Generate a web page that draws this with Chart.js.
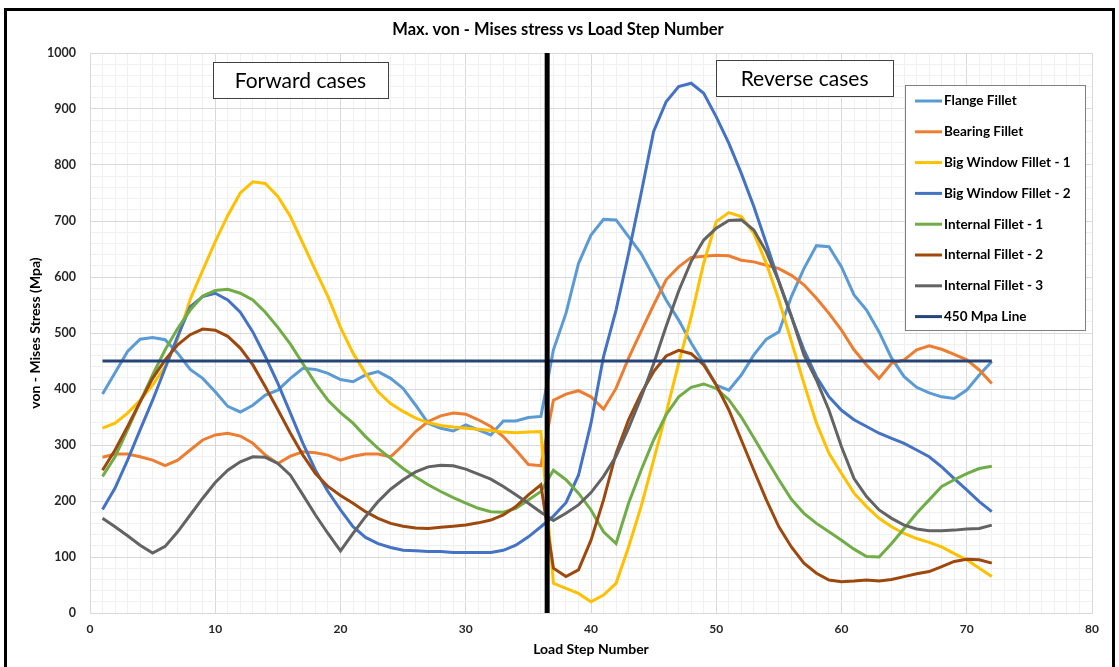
<!DOCTYPE html>
<html>
<head>
<meta charset="utf-8">
<title>Max. von - Mises stress vs Load Step Number</title>
<script src="https://cdn.jsdelivr.net/npm/chart.js@4.4.1/dist/chart.umd.min.js"></script>
<style>
  html, body { margin: 0; padding: 0; background: #fff; }
  #wrap { position: relative; width: 1119px; height: 667px; overflow: hidden; }
  #frame { position: absolute; left: 4px; top: 8px; width: 1111px; height: 700px;
           border: 3px solid #000; box-sizing: border-box; pointer-events: none; }
  canvas { position: absolute; left: 0; top: 0; }
</style>
</head>
<body>
<div id="wrap">
  <canvas id="chart" width="1119" height="667"></canvas>
  <div id="frame"></div>
</div>
<script>
// Load steps (x values)
const loadSteps = [
  1, 2, 3, 4, 5, 6, 7, 8, 9, 10, 11, 12, 13, 14, 15, 16, 17, 18, 19, 20, 21, 22, 23, 24,
  25, 26, 27, 28, 29, 30, 31, 32, 33, 34, 35, 36, 37, 38, 39, 40, 41, 42, 43, 44, 45, 46, 47, 48,
  49, 50, 51, 52, 53, 54, 55, 56, 57, 58, 59, 60, 61, 62, 63, 64, 65, 66, 67, 68, 69, 70, 71, 72
];

// von Mises stress (Mpa) per load step
const flangeFillet = [
  391, 429, 467, 489, 492, 488, 464, 435, 419, 395, 369, 359, 371, 389, 398, 419, 437, 435, 428, 417, 413, 425, 431, 419,
  401, 371, 339, 330, 325, 336, 327, 318, 343, 343, 349, 351, 470, 535, 624, 675, 703, 702, 672, 642, 601, 559, 523, 482,
  446, 407, 398, 425, 461, 489, 502, 565, 615, 656, 654, 618, 568, 541, 502, 455, 422, 403, 393, 386, 383, 398, 425, 449
];
const bearingFillet = [
  278, 284, 284, 279, 273, 263, 273, 291, 309, 318, 321, 316, 303, 282, 267, 280, 288, 286, 282, 273, 280, 284, 284, 279,
  300, 324, 342, 352, 357, 355, 345, 333, 315, 291, 265, 263, 380, 391, 397, 386, 364, 401, 455, 503, 550, 595, 618, 635,
  637, 639, 638, 630, 627, 621, 615, 603, 586, 562, 535, 505, 470, 443, 419, 446, 452, 470, 477, 471, 462, 452, 434, 410
];
const bigWindow1 = [
  330, 339, 357, 380, 407, 440, 490, 560, 612, 663, 710, 750, 770, 767, 744, 708, 660, 612, 565, 510, 464, 428, 395, 374,
  360, 348, 340, 335, 332, 330, 328, 326, 323, 322, 323, 324, 53, 44, 35, 20, 32, 53, 118, 190, 273, 357, 446, 529,
  625, 699, 715, 708, 678, 624, 559, 485, 410, 339, 285, 249, 214, 190, 169, 154, 142, 133, 126, 118, 106, 95, 80, 65
];
const bigWindow2 = [
  185, 223, 273, 327, 380, 437, 494, 547, 565, 571, 559, 537, 502, 458, 410, 357, 303, 255, 217, 184, 154, 135, 124, 117,
  112, 111, 110, 110, 108, 108, 108, 108, 112, 121, 136, 154, 173, 197, 246, 339, 458, 541, 642, 749, 860, 913, 940, 946,
  928, 886, 839, 785, 726, 660, 592, 529, 470, 422, 386, 362, 345, 333, 321, 312, 303, 291, 279, 261, 240, 220, 199, 181
];
const internal1 = [
  244, 279, 327, 377, 425, 470, 508, 541, 566, 576, 578, 571, 559, 537, 510, 480, 445, 410, 380, 358, 339, 315, 294, 276,
  258, 243, 229, 217, 206, 196, 187, 181, 180, 187, 202, 217, 255, 238, 214, 184, 145, 124, 196, 255, 309, 354, 386, 403,
  409, 401, 381, 350, 313, 275, 238, 203, 178, 160, 145, 130, 114, 101, 100, 124, 151, 178, 202, 226, 238, 249, 258, 262
];
const internal2 = [
  255, 291, 333, 377, 419, 452, 479, 497, 507, 505, 494, 473, 443, 404, 363, 321, 282, 249, 226, 210, 196, 181, 169, 160,
  155, 152, 151, 153, 155, 157, 161, 166, 175, 190, 211, 229, 80, 65, 77, 130, 202, 285, 345, 392, 431, 459, 469, 463,
  443, 407, 363, 309, 255, 202, 154, 118, 89, 71, 59, 56, 57, 59, 57, 60, 65, 70, 74, 83, 92, 96, 95, 89
];
const internal3 = [
  169, 154, 138, 121, 107, 119, 145, 175, 205, 233, 255, 270, 279, 278, 267, 246, 211, 175, 142, 111, 142, 172, 199, 221,
  238, 252, 261, 264, 263, 257, 248, 239, 226, 211, 196, 180, 165, 178, 193, 215, 244, 280, 330, 385, 445, 512, 575, 628,
  666, 687, 701, 702, 684, 645, 592, 530, 461, 416, 362, 297, 240, 208, 184, 169, 157, 150, 147, 147, 148, 150, 151, 157
];
const limitStress = 450;       // 450 Mpa line
const reversalStep = 36.5;     // forward / reverse divider

const seriesNames = [
  'Flange Fillet', 'Bearing Fillet', 'Big Window Fillet - 1', 'Big Window Fillet - 2',
  'Internal Fillet - 1', 'Internal Fillet - 2', 'Internal Fillet - 3', '450 Mpa Line'
];
const seriesColors = ['#5B9BD5', '#ED7D31', '#FFC000', '#4472C4', '#70AD47', '#9E480E', '#636363', '#264478'];
const seriesValues = [flangeFillet, bearingFillet, bigWindow1, bigWindow2, internal1, internal2, internal3,
  loadSteps.map(() => limitStress)];

const FONT = 'Lato, "Open Sans", sans-serif';

// Build datasets from the arrays above
const datasets = seriesNames.map((name, i) => ({
  label: name,
  data: seriesValues[i].map((v, j) => ({ x: loadSteps[j], y: v })),
  borderColor: seriesColors[i],
  backgroundColor: seriesColors[i],
  borderWidth: 3,
  pointRadius: 0,
  tension: 0,
  showLine: true,
  order: 20 - i // later series on top, like Excel
}));
datasets.push({
  label: 'divider',
  data: [{ x: reversalStep, y: 0 }, { x: reversalStep, y: 1000 }],
  borderColor: '#000',
  borderWidth: 5,
  pointRadius: 0,
  showLine: true,
  order: 0
});

// Text boxes placed in data coordinates
const caseBoxes = [
  { text: 'Forward cases', x0: 9.8, x1: 23.8, y0: 984, y1: 920 },
  { text: 'Reverse cases', x0: 50.0, x1: 64.1, y0: 988, y1: 923 }
];

const decorPlugin = {
  id: 'decor',
  afterDraw(chart) {
    const { ctx, chartArea, scales: { x, y } } = chart;
    ctx.save();
    ctx.fillStyle = '#000';

    // Title
    ctx.font = 'bold 16.5px ' + FONT;
    ctx.textAlign = 'center';
    ctx.textBaseline = 'middle';
    ctx.fillText('Max. von - Mises stress vs Load Step Number', 558, 30);

    // Axis titles
    ctx.font = 'bold 14px ' + FONT;
    ctx.fillText('Load Step Number', (chartArea.left + chartArea.right) / 2, 649);
    ctx.save();
    ctx.translate(35, (chartArea.top + chartArea.bottom) / 2);
    ctx.rotate(-Math.PI / 2);
    ctx.fillText('von - Mises Stress (Mpa)', 0, 0);
    ctx.restore();

    // Case boxes
    caseBoxes.forEach(b => {
      const l = x.getPixelForValue(b.x0), r = x.getPixelForValue(b.x1);
      const t = y.getPixelForValue(b.y0), bt = y.getPixelForValue(b.y1);
      ctx.fillStyle = '#fff';
      ctx.fillRect(l, t, r - l, bt - t);
      ctx.strokeStyle = '#404040';
      ctx.lineWidth = 1;
      ctx.strokeRect(Math.round(l) + 0.5, Math.round(t) + 0.5, Math.round(r - l), Math.round(bt - t));
      ctx.fillStyle = '#000';
      ctx.font = '21px ' + FONT;
      ctx.textAlign = 'center';
      ctx.fillText(b.text, (l + r) / 2, (t + bt) / 2 + 1);
    });

    // Legend box
    const lx = 905, ly = 85, lw = 180, lh = 245;
    ctx.fillStyle = '#fff';
    ctx.fillRect(lx, ly, lw, lh);
    ctx.strokeStyle = '#7f7f7f';
    ctx.lineWidth = 1;
    ctx.strokeRect(lx + 0.5, ly + 0.5, lw, lh);
    ctx.font = 'bold 13.5px ' + FONT;
    ctx.textAlign = 'left';
    ctx.textBaseline = 'middle';
    seriesNames.forEach((name, i) => {
      const cy = 101 + i * 30.8;
      ctx.strokeStyle = seriesColors[i];
      ctx.lineWidth = 3;
      ctx.beginPath();
      ctx.moveTo(915, cy);
      ctx.lineTo(942, cy);
      ctx.stroke();
      ctx.fillStyle = '#000';
      ctx.fillText(name, 944, cy);
    });
    ctx.restore();
  }
};

new Chart(document.getElementById('chart'), {
  type: 'scatter',
  data: { datasets },
  options: {
    responsive: false,
    animation: false,
    layout: { padding: { left: 0, right: 27, top: 53, bottom: 0 } },
    plugins: {
      legend: { display: false },
      title: { display: false },
      tooltip: { enabled: false }
    },
    scales: {
      x: {
        type: 'linear',
        min: 0,
        max: 80,
        afterFit: s => { s.height = 54; },
        border: { color: '#d9d9d9' },
        grid: {
          drawTicks: false,
          color: c => (c.tick && c.tick.value % 10 === 0) ? '#d9d9d9' : '#f0f0f0'
        },
        ticks: {
          stepSize: 1,
          autoSkip: false,
          maxRotation: 0,
          padding: 9,
          color: '#262626',
          font: { family: FONT, size: 12, weight: 'bold' },
          callback: v => (v % 10 === 0 ? String(v) : '')
        }
      },
      y: {
        min: 0,
        max: 1000,
        afterFit: s => { s.width = 90; },
        border: { color: '#d9d9d9' },
        grid: {
          drawTicks: false,
          color: c => (c.tick && c.tick.value % 100 === 0) ? '#d9d9d9' : '#f0f0f0'
        },
        ticks: {
          stepSize: 20,
          autoSkip: false,
          padding: 14,
          color: '#262626',
          font: { family: FONT, size: 12.5, weight: 'bold' },
          callback: v => (v % 100 === 0 ? String(v) : '')
        }
      }
    }
  },
  plugins: [decorPlugin]
});
</script>
</body>
</html>
